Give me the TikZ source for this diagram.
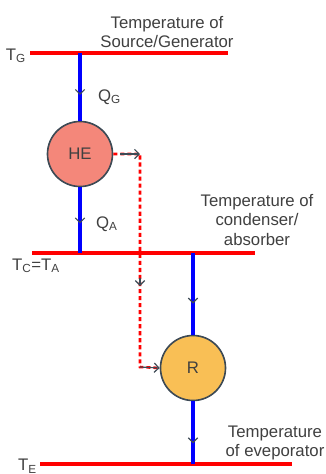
\documentclass[tikz,border=0pt]{standalone}
\usepackage{fontspec}
\setmainfont{Liberation Sans}
\usepackage{xcolor}
\definecolor{hotred}{HTML}{FF0000}
\definecolor{flowblue}{HTML}{0000FF}
\definecolor{heatfill}{HTML}{F4877A}
\definecolor{frigfill}{HTML}{F9BF55}
\definecolor{rimgray}{HTML}{3D4A55}
\definecolor{txtgray}{HTML}{404040}
\usetikzlibrary{arrows.meta, positioning, calc, decorations.markings}

\begin{document}
\begin{tikzpicture}[x=0.03cm, y=-0.03cm,
  every node/.style={font=\fontsize{14.3}{17}\selectfont, text=txtgray},
  templine/.style={hotred, line width=2.6pt},
  heatline/.style={flowblue, line width=2.8pt},
  workline/.style={hotred, line width=2.2pt, dash pattern=on 3.5pt off 2.5pt},
  tipgray/.style={rimgray, line width=1pt, -{Straight Barb[length=4pt,width=8pt]}},
  flowmark/.style={postaction={decorate, decoration={markings,
      mark=at position #1 with {\arrow[rimgray, line width=1pt]{Straight Barb[length=4pt,width=8pt]}}}}},
  machine/.style={circle, draw=rimgray, line width=1.4pt, minimum size=1.95cm, inner sep=0pt},
  heading/.style={align=center}
]
  \useasboundingbox (0,0) rectangle (325,474);

  % temperature levels
  \coordinate (genL) at (30,53);   \coordinate (genR) at (228,53);
  \coordinate (conL) at (32,253);  \coordinate (conR) at (255,253);
  \coordinate (evaL) at (40,464);  \coordinate (evaR) at (292,464);
  \draw[templine] (genL) -- (genR);
  \draw[templine] (conL) -- (conR);
  \draw[templine] (evaL) -- (evaR);

  \node[anchor=east] (tg) at (30,56) {T\textsubscript{G}};
  \node (tcta) at (36,266) {T\textsubscript{C}=T\textsubscript{A}};
  \node[anchor=east] (te) at (41,466) {T\textsubscript{E}};

  \node[heading] (genlbl) at (167,32) {Temperature of\\Source/Generator};
  \node[heading] (conlbl) at (257,220) {Temperature of\\condenser/\\absorber};
  \node[heading] (evalbl) at (275,443) {Temperature\\of eveporator};

  % engine and refrigerator
  \node[machine, fill=heatfill] (he) at (80,154) {HE};
  \node[machine, fill=frigfill] (fr) at (193,368) {R};

  \draw[heatline, flowmark=0.62] (he |- genL) -- (he.north);
  \draw[heatline, flowmark=0.55] (he.south) -- (he |- conL);
  \draw[heatline, flowmark=0.62] (fr |- conL) -- (fr.north);
  \draw[heatline, flowmark=0.67] (fr.south) -- (fr |- evaL);

  \node[anchor=west] (qg) at (94,97) {Q\textsubscript{G}};
  \node[anchor=west] (qa) at (92,224) {Q\textsubscript{A}};

  % work from engine to refrigerator
  \coordinate (wtop) at (140,154);
  \coordinate (wbot) at (140,367);
  \draw[workline] (he.east) -- (wtop) -- (wbot) -- (fr.west);
  \draw[tipgray] ($(wtop)+(-20,0)$) -- (wtop);
  \draw[tipgray] (wbot) -- (fr.west);
  \draw[tipgray] ($(wtop)!0.58!(wbot)$) -- ($(wtop)!0.62!(wbot)$);
\end{tikzpicture}
\end{document}
